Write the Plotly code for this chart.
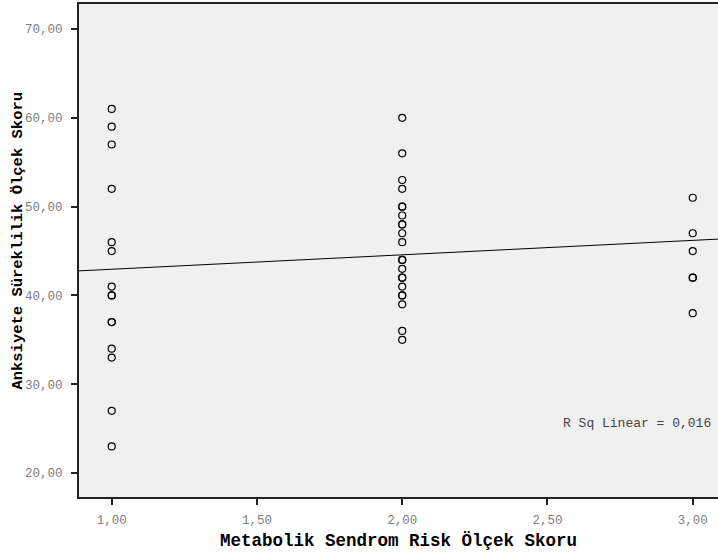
import numpy as np
import plotly.graph_objects as go

# Data (Metabolik Sendrom Risk Ölçek Skoru vs Anksiyete Süreklilik Ölçek Skoru)
x1_scores = [61, 59, 57, 52, 46, 45, 41, 40, 40, 37, 37, 34, 33, 27, 23]
x2_scores = [60, 56, 53, 52, 50, 50, 49, 48, 48, 47, 46, 44, 44, 43, 42, 42,
             41, 40, 40, 39, 36, 35]
x3_scores = [51, 47, 45, 42, 42, 38]

x_vals = [1.0] * len(x1_scores) + [2.0] * len(x2_scores) + [3.0] * len(x3_scores)
y_vals = x1_scores + x2_scores + x3_scores

y_ticks = [20, 30, 40, 50, 60, 70]
x_ticks = [1.0, 1.5, 2.0, 2.5, 3.0]
r_sq_text = "R Sq Linear = 0,016"

x_range = [0.8874, 3.087]
y_range = [17.30, 72.82]

slope, intercept = np.polyfit(np.array(x_vals), np.array(y_vals), 1)
fit_x = np.array(x_range)
fit_y = intercept + slope * fit_x

MONO = "Liberation Mono, Courier New, monospace"

fig = go.Figure()
fig.add_trace(go.Scatter(
    x=fit_x, y=fit_y, mode="lines",
    line=dict(color="black", width=1), hoverinfo="skip", showlegend=False,
))
fig.add_trace(go.Scatter(
    x=x_vals, y=y_vals, mode="markers",
    marker=dict(symbol="circle-open", size=7, color="black", line=dict(width=1.2, color="black")),
    showlegend=False,
))

fig.update_layout(
    width=718, height=554,
    margin=dict(l=79, r=0, t=4, b=57),
    paper_bgcolor="white", plot_bgcolor="#F0F0F0",
    separators=",.",
    font=dict(family=MONO, size=12, color="#808080"),
    showlegend=False,
    xaxis=dict(
        range=x_range, tickvals=x_ticks, tickformat=".2f",
        showgrid=False, zeroline=False,
        showline=True, linecolor="#222222", linewidth=2, mirror=True,
        ticks="outside", ticklen=6, tickwidth=2, tickcolor="#222222",
        tickfont=dict(family=MONO, size=12.5, color="#808080"),
        ticklabelstandoff=4,
    ),
    yaxis=dict(
        range=y_range, tickvals=y_ticks, tickformat=".2f",
        showgrid=False, zeroline=False,
        showline=True, linecolor="#222222", linewidth=2,
        ticks="outside", ticklen=6, tickwidth=2, tickcolor="#222222",
        tickfont=dict(family=MONO, size=12.5, color="#808080"),
        ticklabelstandoff=6,
    ),
    annotations=[
        dict(text="<b>Metabolik Sendrom Risk Ölçek Skoru</b>", xref="paper", yref="paper",
             x=0.5, y=-0.0892, xanchor="center", yanchor="middle", showarrow=False,
             font=dict(family=MONO, size=17.5, color="black")),
        dict(text="<b>Anksiyete Süreklilik Ölçek Skoru</b>", xref="paper", yref="paper",
             x=-0.0955, y=0.520, xanchor="center", yanchor="middle", showarrow=False,
             textangle=-90, font=dict(family=MONO, size=15.5, color="black")),
        dict(text=r_sq_text, xref="paper", yref="paper",
             x=0.992, y=0.150, xanchor="right", yanchor="middle", showarrow=False,
             font=dict(family=MONO, size=13, color="#444444")),
    ],
)

fig.write_html(
    "out.html",
    config={"displayModeBar": False},
    post_script="document.body.style.margin='0px';document.body.style.padding='0px';",
)
